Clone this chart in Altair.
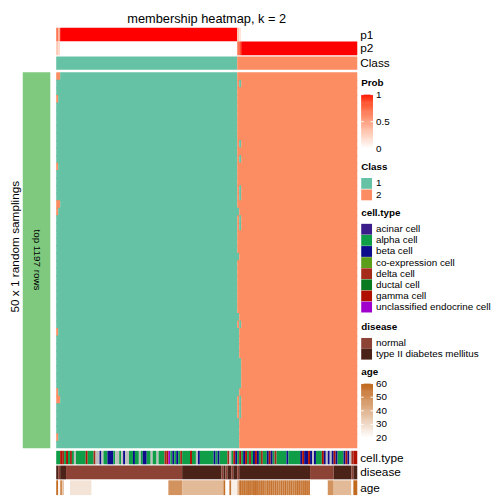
import altair as alt
import pandas as pd

TITLE = "membership heatmap, k = 2"
ROW_TITLE = "50 x 1 random samplings"
GROUP_LABEL = "top 1197 rows"
N = 153
N_ROWS = 50

# probabilities of the two classes per sample
p1 = [0.7, 0.45] + [1.0] * 90 + [0.3, 0.15] + [0.0] * 59
p2 = [0.3, 0.2] + [0.0] * 90 + [0.7, 0.85] + [1.0] * 59
sample_class = ["1"] * 92 + ["2"] * 61

# number of leading class-1 samples in each of the 50 samplings
row_split = [92, 92, 92, 92, 92, 92, 92, 92, 92, 92,
             92, 92, 92, 92, 92, 92, 92, 92, 93, 92,
             92, 92, 92, 92, 93, 92, 92, 92, 92, 92,
             92, 92, 93, 94, 93, 93, 93, 93, 94, 94,
             94, 94, 93, 94, 94, 94, 93, 93, 93, 93]
# (row, sample, class) cells that differ from the split
exceptions = [(1, 93, "1"), (9, 93, "1"), (11, 93, "1"), (15, 93, "1"), (16, 93, "1"),
              (19, 93, "1"), (20, 93, "1"), (33, 92, "2"), (43, 92, "2"), (44, 92, "2"),
              (45, 92, "2"), (0, 0, "2"), (3, 0, "2"), (12, 0, "2"), (17, 0, "2"),
              (18, 0, "2"), (34, 0, "2"), (42, 0, "2"), (43, 0, "2"), (48, 0, "2"),
              (0, 1, "2"), (17, 1, "2"), (43, 1, "2")]

cell_codes = {
    "ac": "acinar cell", "al": "alpha cell", "be": "beta cell", "co": "co-expression cell",
    "de": "delta cell", "du": "ductal cell", "ga": "gamma cell",
    "un": "unclassified endocrine cell", "na": "NA",
}
cell_type = [
    "al", "al", "ga", "de", "al", "ga", "al", "de", "al", "na",
    "al", "al", "al", "al", "al", "ga", "al", "al", "al", "de",
    "na", "na", "be", "na", "al", "al", "be", "be", "be", "al",
    "na", "na", "al", "na", "be", "na", "na", "al", "al", "be",
    "al", "al", "na", "al", "be", "be", "al", "al", "na", "al",
    "al", "na", "al", "al", "al", "de", "ga", "un", "al", "be",
    "al", "be", "al", "de", "al", "al", "al", "al", "ga", "al",
    "al", "na", "be", "al", "al", "al", "al", "al", "al", "al",
    "be", "al", "be", "al", "al", "al", "al", "de", "na", "al",
    "ga", "be", "al", "ga", "al", "be", "ga", "al", "de", "al",
    "be", "ga", "be", "al", "de", "al", "al", "be", "ga", "be",
    "al", "de", "al", "al", "al", "al", "al", "be", "al", "al",
    "al", "al", "al", "al", "be", "ga", "be", "be", "ga", "be",
    "na", "be", "al", "al", "al", "ga", "be", "na", "be", "na",
    "be", "ga", "be", "al", "al", "al", "be", "ga", "be", "na",
    "de", "ga", "ga",
]
disease = (["T"] + ["N"] + ["T"] * 3 + ["N"] * 59 + ["T"] * 20 + ["N"] + ["T"] + ["N"]
           + ["T"] * 2 + ["N"] + ["T"] * 2 + ["N"] + ["T"] * 36 + ["N"] * 12 + ["T"] * 9
           + ["N"] + ["T"] * 2)
disease_names = {"N": "normal", "T": "type II diabetes mellitus"}
age = ([58, 22, 50, 35, 20, 20, 20] + [27] * 11 + [20] * 39 + [48] * 7 + [38] * 21
       + [58, 20, 20, 55, 24, 24, 24, 38, 58]
       + [55, 56, 54, 56, 55, 53, 56, 57, 55, 54, 56, 55, 52, 56, 55, 57, 54, 56, 55, 53,
          56, 55, 57, 54, 55, 56, 53, 55, 57, 56, 54, 55, 56, 55, 54]
       + [20] * 9 + [48] * 3 + [38] * 9 + [21, 59, 59])

prob_ticks = [0, 0.5, 1]
prob_tick_labels = ["0", "0.5", "1"]
age_ticks = [20, 30, 40, 50, 60]
age_tick_labels = ["20", "30", "40", "50", "60"]


# ---------------- tables (contiguous equal cells merged into one rect) ----------------
def runs(values):
    out = []
    start = 0
    for i in range(1, len(values) + 1):
        if i == len(values) or values[i] != values[start]:
            out.append((start, i, values[start]))
            start = i
    return out


def run_table(values, name, extra=None):
    rows = []
    for a, b, v in runs(values):
        d = {"s": a, "s2": b, name: v}
        if extra:
            d.update(extra)
        rows.append(d)
    return rows


prob_df = pd.DataFrame(run_table(p1, "p", {"r": 0, "r2": 1}) + run_table(p2, "p", {"r": 1, "r2": 2}))
cls_df = pd.DataFrame(run_table(sample_class, "cls"))

mem_rows = []
for r in range(N_ROWS):
    row = ["1" if s < row_split[r] else "2" for s in range(N)]
    for rr, s, c in exceptions:
        if rr == r:
            row[s] = c
    # rows slightly overlap the next one so no hairline seams show
    mem_rows += run_table(row, "cls", {"r": r, "r2": min(r + 1.15, N_ROWS)})
mem_df = pd.DataFrame(mem_rows)

ct_df = pd.DataFrame(run_table([cell_codes[c] for c in cell_type], "celltype"))
dis_df = pd.DataFrame(run_table([disease_names[d] for d in disease], "disease"))
age_df = pd.DataFrame(run_table(age, "age"))

# ---------------- styling ----------------
FONT = "Liberation Sans"
LX = 359
x_scale = alt.Scale(domain=[0, N], range=[49, 355], nice=False, zero=False)
class_scale = alt.Scale(domain=["1", "2"], range=["#66C2A5", "#FC8D62"])
ct_names = [cell_codes[k] for k in ["ac", "al", "be", "co", "de", "du", "ga", "un", "na"]]
ct_colors = ["#3A1D8A", "#0F9D48", "#0D0D8C", "#5A9E1A", "#A52A1A", "#0A7A20",
             "#B01000", "#A000CC", "#BEBEBE"]
ct_scale = alt.Scale(domain=ct_names, range=ct_colors)
dis_scale = alt.Scale(domain=["normal", "type II diabetes mellitus"], range=["#8C4235", "#4A2218"])
prob_scale = alt.Scale(domain=[0, 1], range=["#FFFFFF", "#FF0000"], interpolate="lab")
age_scale = alt.Scale(domain=[20, 60], range=["#FFFFFF", "#C0651A"], interpolate="rgb")


def sym_legend(title, y, row_pad, values=None):
    kw = dict(title=title, orient="none", legendX=LX, legendY=y, symbolType="square",
              symbolSize=121, symbolStrokeWidth=0, rowPadding=row_pad, titlePadding=6,
              labelOffset=4, labelFont=FONT, titleFont=FONT, labelFontSize=10,
              titleFontSize=10, titleFontWeight="bold", labelColor="black", titleColor="black")
    if values is not None:
        kw["values"] = values
    return alt.Legend(**kw)


def xenc():
    return alt.X("s:Q", scale=x_scale, axis=None)


def label(txt, x, y, size=12, align="left", angle=0, baseline="middle", weight="normal"):
    return alt.Chart(pd.DataFrame({"t": [txt]})).mark_text(
        font=FONT, fontSize=size, align=align, baseline=baseline, angle=angle,
        color="black", fontWeight=weight
    ).encode(text="t:N", x=alt.value(x), y=alt.value(y))


def gradient_legend(title, cscale, vmin, vmax, ticks, tick_labels, y_top, y_bottom, title_y):
    n = 60
    step = (vmax - vmin) / n
    vals = [vmin + i * step for i in range(n)]
    gdf = pd.DataFrame({"v": vals, "v2": [min(v + 1.6 * step, vmax) for v in vals]})
    ysc = alt.Scale(domain=[vmin, vmax], range=[y_bottom, y_top], nice=False, zero=False)
    grad = alt.Chart(gdf).mark_rect().encode(
        x=alt.value(359), x2=alt.value(371),
        y=alt.Y("v2:Q", scale=ysc, axis=None), y2="v:Q",
        color=alt.Color("v:Q", scale=cscale, legend=None))
    tdf = pd.DataFrame({"v": ticks, "lab": tick_labels})
    tick_l = alt.Chart(tdf).mark_rule(color="white", strokeWidth=1).encode(
        x=alt.value(359), x2=alt.value(361.5), y=alt.Y("v:Q", scale=ysc, axis=None))
    tick_r = alt.Chart(tdf).mark_rule(color="white", strokeWidth=1).encode(
        x=alt.value(368.5), x2=alt.value(371), y=alt.Y("v:Q", scale=ysc, axis=None))
    labs = alt.Chart(tdf).mark_text(font=FONT, fontSize=10, align="left", baseline="middle",
                                    color="black").encode(
        x=alt.value(374), y=alt.Y("v:Q", scale=ysc, axis=None), text="lab:N")
    ttl = label(title, 359, title_y, size=10, weight="bold")
    return [grad, tick_l, tick_r, labs, ttl]


green = alt.Chart(pd.DataFrame({"g": [GROUP_LABEL]})).mark_rect(color="#7FC97F").encode(
    x=alt.value(15), x2=alt.value(43), y=alt.value(61.3), y2=alt.value(443.5))

prob = alt.Chart(prob_df).mark_rect().encode(
    x=xenc(), x2="s2:Q",
    y=alt.Y("r:Q", scale=alt.Scale(domain=[0, 2], range=[16, 44], nice=False, zero=False), axis=None),
    y2="r2:Q",
    color=alt.Color("p:Q", scale=prob_scale, legend=None),
)

cls_row = alt.Chart(cls_df).mark_rect().encode(
    x=xenc(), x2="s2:Q", y=alt.value(45.3), y2=alt.value(58.7),
    color=alt.Color("cls:N", scale=class_scale, legend=sym_legend("Class", 152.7, 0.7)),
)

heat = alt.Chart(mem_df).mark_rect().encode(
    x=xenc(), x2="s2:Q",
    y=alt.Y("r:Q", scale=alt.Scale(domain=[0, N_ROWS], range=[61.3, 443.5], nice=False, zero=False), axis=None),
    y2="r2:Q",
    color=alt.Color("cls:N", scale=class_scale, legend=None),
)

ct_row = alt.Chart(ct_df).mark_rect().encode(
    x=xenc(), x2="s2:Q", y=alt.value(446), y2=alt.value(459.7),
    color=alt.Color("celltype:N", scale=ct_scale,
                    legend=sym_legend("cell.type", 199.3, 0.3, values=ct_names[:8])),
)

dis_row = alt.Chart(dis_df).mark_rect().encode(
    x=xenc(), x2="s2:Q", y=alt.value(461), y2=alt.value(475),
    color=alt.Color("disease:N", scale=dis_scale, legend=sym_legend("disease", 315.3, 0)),
)

age_row = alt.Chart(age_df).mark_rect().encode(
    x=xenc(), x2="s2:Q", y=alt.value(476), y2=alt.value(491),
    color=alt.Color("age:Q", scale=age_scale, legend=None),
)

prob_leg = gradient_legend("Prob", prob_scale, 0, 1, prob_ticks, prob_tick_labels, 84, 139, 72)
age_leg = gradient_legend("age", age_scale, 20, 60, age_ticks, age_tick_labels, 377.7, 433, 366)

texts = [
    label(TITLE, 202, 1, size=13, align="center", baseline="top"),
    label("p1", 358, 23),
    label("p2", 358, 37),
    label("Class", 358, 52),
    label("cell.type", 358, 453),
    label("disease", 358, 468),
    label("age", 358, 484),
    label(ROW_TITLE, 7, 238.5, size=12, align="center", angle=270),
    label(GROUP_LABEL, 29, 252, size=10, align="center", angle=90),
]

chart = alt.layer(green, prob, cls_row, heat, ct_row, dis_row, age_row,
                  *prob_leg, *age_leg, *texts).resolve_scale(
    y="independent", color="independent"
).properties(
    width=496, height=496, padding=0, autosize=alt.AutoSizeParams(type="none")
).configure_view(stroke=None)

chart.save("out.html", embed_options={"renderer": "svg", "actions": False})
